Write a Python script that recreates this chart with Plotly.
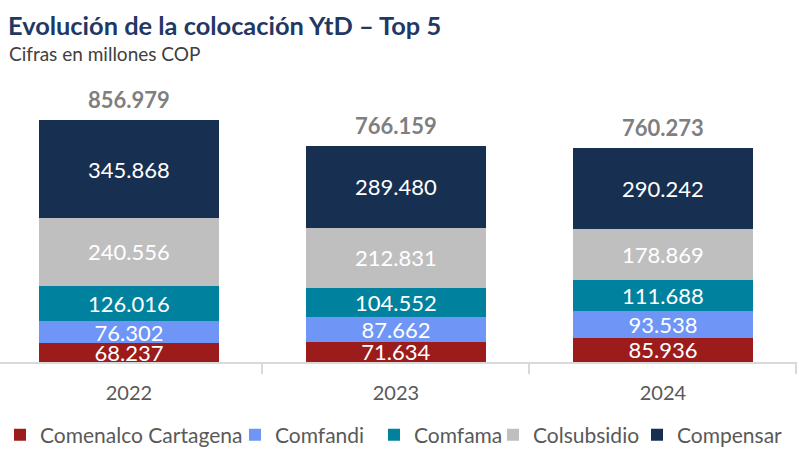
import plotly.graph_objects as go

years = ["2022", "2023", "2024"]
series_names = ["Comenalco Cartagena", "Comfandi", "Comfama", "Colsubsidio", "Compensar"]
comenalco = [68.237, 71.634, 85.936]
comfandi = [76.302, 87.662, 93.538]
comfama = [126.016, 104.552, 111.688]
colsubsidio = [240.556, 212.831, 178.869]
compensar = [345.868, 289.480, 290.242]
colors = ["#9C1C1C", "#6F96F6", "#00829F", "#BFBFBF", "#172F50"]

series_values = [comenalco, comfandi, comfama, colsubsidio, compensar]
totals = [sum(v) for v in zip(*series_values)]

FONT = "Lato"
PW = 797  # plot width in px
legend_text_x = [36, 277, 416, 535, 679]  # where each legend text starts (px)

fig = go.Figure()
for i, (name, vals, col) in enumerate(zip(series_names, series_values, colors)):
    lg = "legend" if i == 0 else f"legend{i+1}"
    fig.add_trace(go.Bar(
        x=years, y=vals, name=name,
        marker=dict(color=col, line=dict(width=0)),
        text=[f"{v:.3f}" for v in vals],
        textposition="inside", insidetextanchor="middle",
        textangle=0,
        textfont=dict(family=FONT, size=22, color="white"),
        width=0.674,
        legend=lg,
    ))

for idx, t in enumerate(totals):
    fig.add_annotation(x=idx, y=t, text=f"<b>{t:.3f}</b>", showarrow=False,
                       yanchor="bottom", yshift=5,
                       font=dict(family=FONT, size=22, color="#7F7F7F"))

fig.add_annotation(xref="paper", yref="paper", x=6/PW, y=(362-25)/282,
                   xanchor="left", yanchor="middle", showarrow=False,
                   text="<b>Evolución de la colocación YtD – Top 5</b>",
                   font=dict(family=FONT, size=25.4, color="#1F3864"))
fig.add_annotation(xref="paper", yref="paper", x=7/PW, y=(362-53)/282,
                   xanchor="left", yanchor="middle", showarrow=False,
                   text="Cifras en millones COP",
                   font=dict(family=FONT, size=19, color="#404040"))

legend_common = dict(orientation="h", xanchor="left", y=-(435-362)/282, yanchor="middle",
                     font=dict(family=FONT, size=21, color="#595959"),
                     itemclick=False, bgcolor="rgba(0,0,0,0)")
legends = {}
for i, tx in enumerate(legend_text_x):
    key = "legend" if i == 0 else f"legend{i+1}"
    legends[key] = dict(legend_common, x=max(0.0, (tx - 42) / PW))

fig.update_layout(
    width=799, height=456,
    margin=dict(l=0, r=2, t=80, b=94),
    barmode="stack",
    plot_bgcolor="white", paper_bgcolor="white",
    uniformtext=dict(minsize=22, mode="show"),
    showlegend=True,
    xaxis=dict(type="category", range=[-0.483, 2.502],
               showline=True, linecolor="#D9D9D9", linewidth=1.5,
               ticks="outside", tickson="boundaries", ticklen=10, tickcolor="#D9D9D9",
               tickwidth=1.5, ticklabelstandoff=12,
               tickfont=dict(family=FONT, size=20, color="#595959"),
               showgrid=False, zeroline=False),
    yaxis=dict(visible=False, range=[0, 1000], showgrid=False),
    **legends,
)

fig.write_html("out.html", config={"displayModeBar": False},
               post_script="document.body.style.margin='0';")
